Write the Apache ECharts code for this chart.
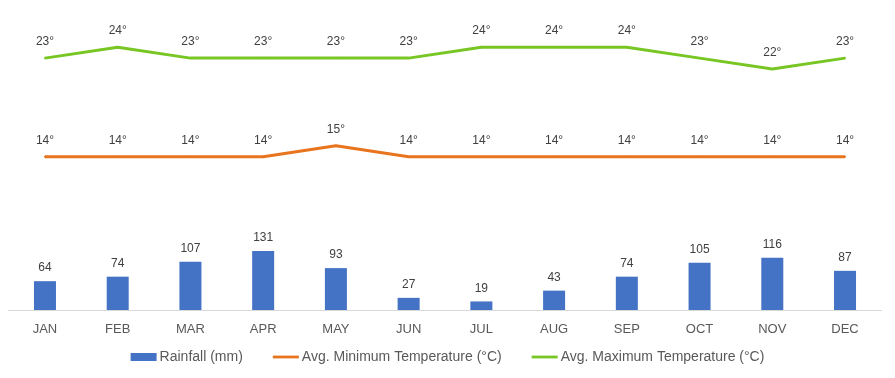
<!DOCTYPE html>
<html>
<head>
<meta charset="utf-8">
<script src="https://cdn.jsdelivr.net/npm/echarts@6/dist/echarts.min.js"></script>
<style>
html,body{margin:0;padding:0;background:#fff;}
#chart{width:895px;height:378px;}
</style>
</head>
<body>
<div id="chart"></div>
<script>
var months = ['JAN','FEB','MAR','APR','MAY','JUN','JUL','AUG','SEP','OCT','NOV','DEC'];
var rainfall = [64, 74, 107, 131, 93, 27, 19, 43, 74, 105, 116, 87];
var minTemp = [14, 14, 14, 14, 15, 14, 14, 14, 14, 14, 14, 14];
var maxTemp = [23, 24, 23, 23, 23, 23, 24, 24, 24, 23, 22, 23];

var FONT = '"Liberation Sans", Arial, sans-serif';
var BLUE = '#4472C4', ORANGE = '#E8741E', GREEN = '#78C623';
var chart = echarts.init(document.getElementById('chart'));
chart.setOption({
  animation: false,
  backgroundColor: '#ffffff',
  grid: { left: 8.6, right: 13.6, top: 20, bottom: 68, containLabel: false },
  legend: {
    bottom: 9,
    left: 'center',
    itemWidth: 26,
    itemHeight: 8,
    itemGap: 30,
    textStyle: { fontFamily: FONT, fontSize: 14, color: '#595959', padding: [0,0,0,-2] },
    data: [
      { name: 'Rainfall (mm)', icon: 'rect', itemStyle: { color: BLUE } },
      { name: 'Avg. Minimum Temperature (°C)', icon: 'path://M0,0 H28 V3 H0 Z', itemStyle: { color: ORANGE } },
      { name: 'Avg. Maximum Temperature (°C)', icon: 'path://M0,0 H28 V3 H0 Z', itemStyle: { color: GREEN } }
    ]
  },
  xAxis: {
    type: 'category',
    data: months,
    axisLine: { lineStyle: { color: '#d9d9d9', width: 1 } },
    axisTick: { show: false },
    axisLabel: { fontFamily: FONT, fontSize: 13, color: '#595959', margin: 13 }
  },
  yAxis: [
    { type: 'value', min: 0, max: 644, show: false, splitLine: { show: false } },
    { type: 'value', min: 0, max: 26.48, show: false, splitLine: { show: false } }
  ],
  series: [
    {
      name: 'Rainfall (mm)',
      type: 'bar',
      yAxisIndex: 0,
      data: rainfall,
      barWidth: 22,
      itemStyle: { color: BLUE },
      label: { show: true, position: 'top', distance: 7, fontFamily: FONT, fontSize: 12, color: '#404040' }
    },
    {
      name: 'Avg. Minimum Temperature (°C)',
      type: 'line',
      yAxisIndex: 1,
      data: minTemp,
      symbol: 'circle',
      symbolSize: 2,
      showSymbol: true,
      lineStyle: { color: ORANGE, width: 3 },
      itemStyle: { color: ORANGE },
      label: { show: true, position: 'top', distance: 9, formatter: '{c}°', fontFamily: FONT, fontSize: 12, color: '#404040' }
    },
    {
      name: 'Avg. Maximum Temperature (°C)',
      type: 'line',
      yAxisIndex: 1,
      data: maxTemp,
      symbol: 'circle',
      symbolSize: 2,
      showSymbol: true,
      lineStyle: { color: GREEN, width: 3 },
      itemStyle: { color: GREEN },
      label: { show: true, position: 'top', distance: 9, formatter: '{c}°', fontFamily: FONT, fontSize: 12, color: '#404040' }
    }
  ]
});
</script>
</body>
</html>
